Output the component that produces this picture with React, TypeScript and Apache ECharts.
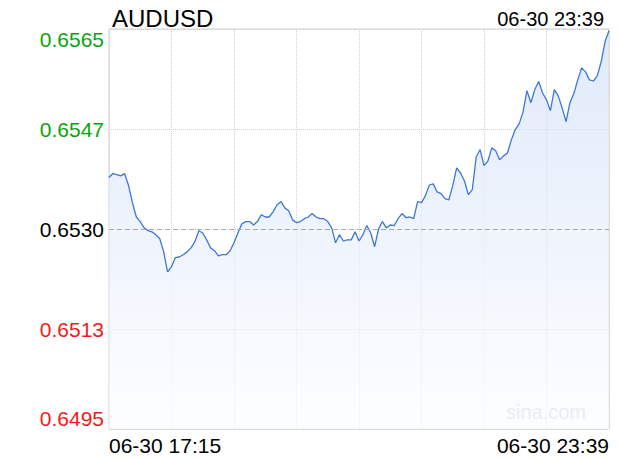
import React, { useEffect, useRef } from "react";
import * as echarts from "echarts";

const symbolName = "AUDUSD";
const lastTime = "06-30 23:39";
const startMinutes = 17 * 60 + 15;
const stepMinutes = 3;

const prices = [
  0.65390, 0.65397, 0.65395, 0.65393, 0.65397, 0.65376, 0.65346, 0.65321, 0.65313, 0.65302,
  0.65297, 0.65295, 0.65290, 0.65283, 0.65260, 0.65225, 0.65234, 0.65250, 0.65251, 0.65255,
  0.65260, 0.65267, 0.65278, 0.65297, 0.65293, 0.65281, 0.65267, 0.65262, 0.65253, 0.65255,
  0.65255, 0.65262, 0.65276, 0.65293, 0.65309, 0.65313, 0.65313, 0.65307, 0.65313, 0.65325,
  0.65321, 0.65321, 0.65330, 0.65342, 0.65348, 0.65337, 0.65332, 0.65316, 0.65311, 0.65313,
  0.65318, 0.65321, 0.65327, 0.65321, 0.65318, 0.65318, 0.65313, 0.65302, 0.65276, 0.65290,
  0.65279, 0.65281, 0.65281, 0.65295, 0.65279, 0.65290, 0.65306, 0.65293, 0.65269, 0.65300,
  0.65313, 0.65302, 0.65307, 0.65306, 0.65318, 0.65327, 0.65320, 0.65321, 0.65318, 0.65348,
  0.65346, 0.65358, 0.65377, 0.65379, 0.65365, 0.65362, 0.65353, 0.65351, 0.65376, 0.65407,
  0.65398, 0.65384, 0.65360, 0.65369, 0.65426, 0.65439, 0.65411, 0.65419, 0.65442, 0.65437,
  0.65421, 0.65428, 0.65433, 0.65456, 0.65474, 0.65484, 0.65505, 0.65542, 0.65521, 0.65544,
  0.65558, 0.65538, 0.65526, 0.65507, 0.65544, 0.65533, 0.65512, 0.65488, 0.65521, 0.65537,
  0.65561, 0.65582, 0.65575, 0.65561, 0.65559, 0.65568, 0.65593, 0.65628, 0.65647,
];

const prevClose = 0.653;
const yMin = 0.6495;
const yMax = 0.6565;
const yTickLabels = ["0.6495", "0.6513", "0.6530", "0.6547", "0.6565"];
const yTickStyles = ["r", "r", "k", "g", "g"];

const pad = (n: number) => (n < 10 ? "0" + n : "" + n);
const timeLabels = prices.map((_, i) => {
  const m = startMinutes + i * stepMinutes;
  return "06-30 " + pad(Math.floor(m / 60)) + ":" + pad(m % 60);
});

const FONT = "'Liberation Sans', Arial, Helvetica, sans-serif";

export default function App() {
  const ref = useRef<HTMLDivElement>(null);
  useEffect(() => {
    if (!ref.current) return;
    const chart = echarts.init(ref.current, null, { renderer: "svg" });
    const last = prices.length - 1;
    chart.setOption({
      animation: false,
      backgroundColor: "#ffffff",
      textStyle: { fontFamily: FONT },
      title: [
        {
          text: symbolName,
          left: 107,
          top: 1,
          textStyle: { fontSize: 24, fontWeight: "normal", color: "#000", fontFamily: FONT },
        },
        {
          text: lastTime,
          right: 11,
          top: 4,
          textStyle: { fontSize: 20, fontWeight: "normal", color: "#000", fontFamily: FONT },
        },
      ],
      graphic: [
        {
          type: "text",
          right: 34,
          bottom: 38,
          style: { text: "sina.com", fill: "#c8c8c8", font: "20px " + FONT },
          silent: true,
        },
      ],
      grid: {
        left: 109,
        right: 11,
        top: 29,
        bottom: 31,
        show: true,
        borderColor: "#d0d0d0",
        borderWidth: 1,
        containLabel: false,
      },
      xAxis: {
        type: "category",
        boundaryGap: false,
        data: timeLabels,
        axisLine: { show: false },
        axisTick: { show: false },
        splitLine: {
          show: true,
          interval: 15,
          lineStyle: { color: "#d0d0d0", type: "dotted", width: 1 },
        },
        axisLabel: {
          interval: (idx: number) => idx === 0 || idx === last,
          fontSize: 21,
          color: "#000",
          margin: 6,
          fontFamily: FONT,
          alignMinLabel: "left",
          alignMaxLabel: "right",
          showMinLabel: true,
          showMaxLabel: true,
        },
      },
      yAxis: [
        {
          type: "value",
          min: yMin,
          max: yMax,
          show: false,
        },
        {
          type: "value",
          min: 0,
          max: yTickLabels.length - 1,
          interval: 1,
          position: "left",
          axisLine: { show: false },
          axisTick: { show: false },
          splitLine: {
            show: true,
            lineStyle: { color: "#d0d0d0", type: "dotted", width: 1 },
          },
          axisLabel: {
            margin: 5,
            fontSize: 21,
            fontFamily: FONT,
            verticalAlignMinLabel: "bottom",
            verticalAlignMaxLabel: "top",
            formatter: (v: number) => "{" + yTickStyles[v] + "|" + yTickLabels[v] + "}",
            rich: {
              r: { color: "#f21a1a", fontSize: 21, fontFamily: FONT },
              k: { color: "#000000", fontSize: 21, fontFamily: FONT },
              g: { color: "#0aa50a", fontSize: 21, fontFamily: FONT },
            },
          },
        },
      ],
      series: [
        {
          type: "line",
          yAxisIndex: 0,
          data: prices,
          showSymbol: false,
          symbol: "none",
          smooth: false,
          lineStyle: { color: "#3d78d6", width: 1.3 },
          areaStyle: {
            origin: "start",
            color: new echarts.graphic.LinearGradient(0, 0, 0, 1, [
              { offset: 0, color: "#d3e1f8" },
              { offset: 1, color: "#fcfdff" },
            ]),
          },
          markLine: {
            silent: true,
            symbol: "none",
            label: { show: false },
            lineStyle: { color: "#a8a8b0", type: [5, 3], width: 1 },
            data: [[{ coord: [0, prevClose] }, { coord: [last, prevClose] }]],
          },
        },
      ],
    });
    return () => chart.dispose();
  }, []);
  return (
    <div
      ref={ref}
      style={{ position: "absolute", left: 0, top: 0, width: 620, height: 460 }}
    />
  );
}
